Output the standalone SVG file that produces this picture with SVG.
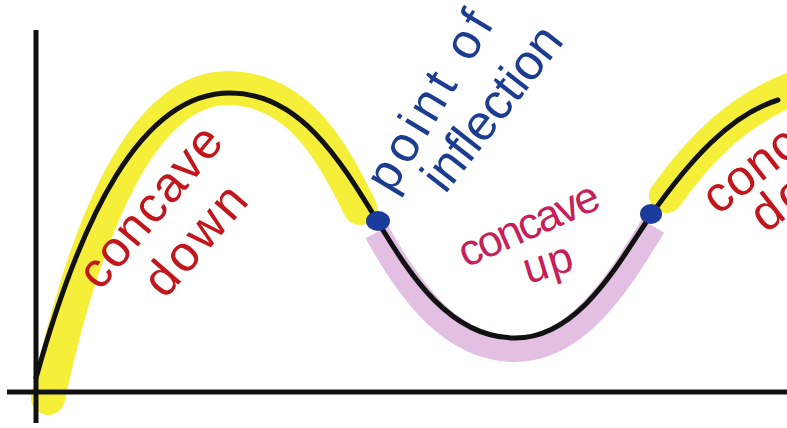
<svg xmlns="http://www.w3.org/2000/svg" width="787" height="428" viewBox="0 0 787 428">
<style>
.hl-y{fill:none;stroke:#f6ef3a;stroke-width:34;stroke-linecap:round;stroke-linejoin:round}
.hl-p{fill:none;stroke:#e2bfe3;stroke-width:26;stroke-linecap:butt}
.ink{fill:none;stroke:#111;stroke-width:5;stroke-linecap:round}
.axis{fill:none;stroke:#111;stroke-width:5}
.dot{fill:#1a3a9c}
.lbl{font-family:"Liberation Sans","DejaVu Sans",sans-serif;font-size:50px}
.red{fill:#c2161d}
.blue{fill:#1c3c8f}
.pink{fill:#c52158}
</style>
<rect width="787" height="428" fill="#ffffff"/>
<g id="highlights">
<path class="hl-y" d="M48,398 C84,230 142,86 230,88 C298,90 332,150 360,208"/>
<path class="hl-p" d="M377,232 C410,292 452,349 515,349 C580,349 622,276 653,226"/>
<path class="hl-y" d="M666,196 C700,148 740,108 795,88"/>
</g>
<g id="axes">
<line class="axis" x1="36" y1="30" x2="36" y2="423"/>
<line class="axis" x1="7" y1="392" x2="787" y2="392"/>
</g>
<g id="curve">
<path class="ink" d="M36,378 C80,220 140,93 230,93 C300,93 340,160 378,222 C410,275 450,338 515,338 C580,338 620,260 651,215 C690,160 730,115 778,100"/>
</g>
<g id="inflection-points">
<ellipse class="dot" cx="378" cy="221" rx="12" ry="10"/>
<ellipse class="dot" cx="651" cy="214" rx="11" ry="10"/>
</g>
<g id="labels">
<text class="lbl red" transform="translate(100,292) rotate(-50)" textLength="195" lengthAdjust="spacing">concave</text>
<text class="lbl red" transform="translate(165,300) rotate(-49)" textLength="130" lengthAdjust="spacing">down</text>
<text class="lbl blue" transform="translate(392,195) rotate(-59)" textLength="200" lengthAdjust="spacing">point of</text>
<text class="lbl blue" transform="translate(445,195) rotate(-52)" textLength="195" lengthAdjust="spacing">inflection</text>
<text class="lbl pink" style="font-size:44px" transform="translate(466,268) rotate(-24)" textLength="150" lengthAdjust="spacing">concave</text>
<text class="lbl pink" style="font-size:44px" transform="translate(528,284) rotate(-17)" textLength="50" lengthAdjust="spacing">up</text>
<text class="lbl red" transform="translate(718,216) rotate(-38)" textLength="190" lengthAdjust="spacing">concave</text>
<text class="lbl red" transform="translate(766,234) rotate(-38)" textLength="130" lengthAdjust="spacing">down</text>
</g>
</svg>
